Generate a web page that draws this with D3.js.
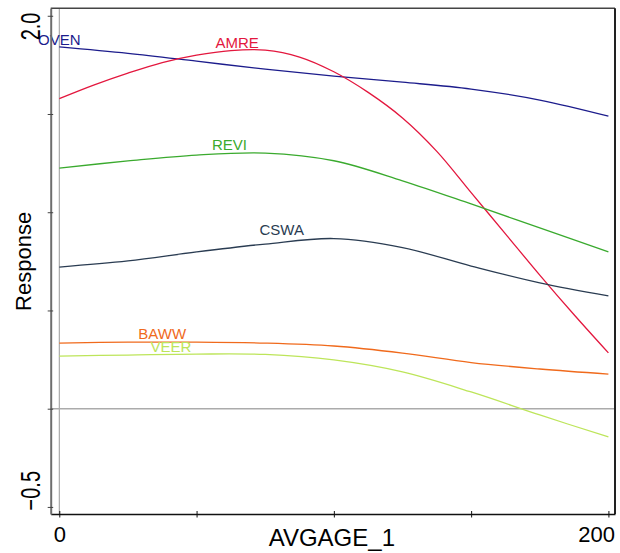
<!DOCTYPE html>
<html>
<head>
<meta charset="utf-8">
<script src="https://cdn.jsdelivr.net/npm/d3@7"></script>
<style>
  body { margin: 0; background: #fff; }
  text { font-family: "Liberation Sans", Arial, sans-serif; }
</style>
</head>
<body>
<div id="okvir"></div>
<script>
// data
const ages = [0, 25, 50, 75, 100, 125, 150, 175, 200]
const agesFine = [0, 12.5, 25, 37.5, 50, 62.5, 75, 87.5, 100, 112.5, 125, 137.5, 150, 162.5, 175, 187.5, 200]

const oven = [1.842, 1.809, 1.769, 1.728, 1.693, 1.662, 1.627, 1.571, 1.489]
const amre = [1.578, 1.647, 1.708, 1.762, 1.800, 1.823, 1.825, 1.790, 1.715, 1.610, 1.480, 1.310, 1.100, 0.890, 0.680, 0.478, 0.284]
const revi = [1.225, 1.261, 1.291, 1.301, 1.262, 1.160, 1.042, 0.920, 0.798]
const cswa = [0.721, 0.752, 0.798, 0.838, 0.866, 0.820, 0.726, 0.640, 0.574]
const baww = [0.334, 0.339, 0.339, 0.334, 0.319, 0.283, 0.235, 0.202, 0.176]
const veer = [0.268, 0.273, 0.278, 0.276, 0.248, 0.187, 0.085, -0.032, -0.144]

const seriesNames = ["OVEN", "AMRE", "REVI", "CSWA", "BAWW", "VEER"]
const labelAt = [[0, 1.853], [64.8, 1.835], [62, 1.316], [81, 0.884], [37.5, 0.354], [40.7, 0.288]]

const yTicks = [2.0, 1.5, 1.0, 0.5, 0.0, -0.5]
const xTicks = [0, 50, 100, 150, 200]

const boje = {
  OVEN: "#1c1c8c", AMRE: "#e3173e", REVI: "#3aaa2e",
  CSWA: "#2a3c52", BAWW: "#f06a1c", VEER: "#bde55a",
}

const serije = [
  { name: "OVEN", x: ages, y: oven },
  { name: "AMRE", x: agesFine, y: amre },
  { name: "REVI", x: ages, y: revi },
  { name: "CSWA", x: ages, y: cswa },
  { name: "BAWW", x: ages, y: baww },
  { name: "VEER", x: ages, y: veer },
]

let dim = {
  sirina: 620,
  visina: 553,
  margine: { top: 8.3, right: 5, bottom: 39, left: 50.7 },
}
dim.grSirina = dim.sirina - dim.margine.left - dim.margine.right
dim.grVisina = dim.visina - dim.margine.top - dim.margine.bottom

const svg = d3.select("#okvir").append("svg")
  .attr("width", dim.sirina)
  .attr("height", dim.visina)

const g = svg.append("g")
  .attr("transform", `translate(${dim.margine.left},${dim.margine.top})`)

const xSkala = d3.scaleLinear().domain([-3.13, 202.4]).range([0, dim.grSirina])
const ySkala = d3.scaleLinear().domain([-0.536, 2.038]).range([dim.grVisina, 0])

// reference lines
g.append("line")
  .attr("x1", xSkala(0)).attr("x2", xSkala(0))
  .attr("y1", 0).attr("y2", dim.grVisina)
  .attr("stroke", "#9a9a9a").attr("stroke-width", 1)
g.append("line")
  .attr("x1", 0).attr("x2", dim.grSirina)
  .attr("y1", ySkala(0)).attr("y2", ySkala(0))
  .attr("stroke", "#ababab").attr("stroke-width", 1.5)

// frame top / right
g.append("line")
  .attr("x1", 0).attr("x2", dim.grSirina).attr("y1", 0).attr("y2", 0)
  .attr("stroke", "#444").attr("stroke-width", 1.5)
g.append("line")
  .attr("x1", dim.grSirina).attr("x2", dim.grSirina).attr("y1", 0).attr("y2", dim.grVisina)
  .attr("stroke", "#222").attr("stroke-width", 2)

// curves
const linija = d3.line().curve(d3.curveCatmullRom.alpha(0.5))
g.selectAll(".serija")
  .data(serije)
  .join("path")
  .attr("class", "serija")
  .attr("fill", "none")
  .attr("stroke", d => boje[d.name])
  .attr("stroke-width", 1.3)
  .attr("d", d => linija(d.x.map((v, i) => [xSkala(v), ySkala(d.y[i])])))

g.selectAll(".oznaka")
  .data(seriesNames)
  .join("text")
  .attr("class", "oznaka")
  .attr("x", (d, i) => xSkala(labelAt[i][0]))
  .attr("y", (d, i) => ySkala(labelAt[i][1]))
  .attr("text-anchor", "middle")
  .attr("font-size", 15)
  .attr("fill", d => boje[d])
  .text(d => d)

// x axis
const xOs = g.append("g")
  .attr("transform", `translate(0,${dim.grVisina})`)
  .call(d3.axisBottom(xSkala).tickValues(xTicks).tickSize(0).tickPadding(0).tickFormat(d => (d === 0 || d === 200) ? d : ""))
xOs.select(".domain").attr("stroke", "#111").attr("stroke-width", 1.5)
xOs.selectAll(".tick line").attr("y1", -3).attr("y2", 3.5).attr("stroke", "#111")
xOs.selectAll(".tick text")
  .attr("font-size", 22)
  .attr("fill", "#000")
  .attr("dy", null)
  .attr("y", 27.5)
  .attr("text-anchor", d => d === 200 ? "end" : "middle")
  .attr("dx", d => d === 200 ? 6 : 0)

xOs.append("text")
  .attr("x", xSkala(100) - 2)
  .attr("y", 32)
  .attr("fill", "#000")
  .attr("font-size", 24)
  .attr("text-anchor", "middle")
  .text("AVGAGE_1")

// y axis
const yOs = g.append("g")
  .call(d3.axisLeft(ySkala).tickValues(yTicks).tickSize(0).tickFormat(d3.format(".1f")))
yOs.select(".domain").attr("stroke", "#6e6e6e").attr("stroke-width", 2)
yOs.selectAll(".tick line").attr("x1", -3).attr("x2", 2.5).attr("stroke", "#444")
yOs.selectAll(".tick text")
  .attr("font-size", 20)
  .attr("fill", "#000")
  .attr("x", null).attr("dy", null)
  .attr("text-anchor", d => d > 1 ? "end" : "start")
  .attr("transform", d => `translate(-10.5,0) rotate(-90) scale(1,1.35) translate(${d > 1 ? 3.7 : -3},0)`)
  .style("display", d => (d === 2 || d === -0.5) ? null : "none")

yOs.append("text")
  .attr("transform", `translate(-19.5,${ySkala(0.75)}) rotate(-90)`)
  .attr("fill", "#000")
  .attr("font-size", 22)
  .attr("text-anchor", "middle")
  .text("Response")
</script>
</body>
</html>
